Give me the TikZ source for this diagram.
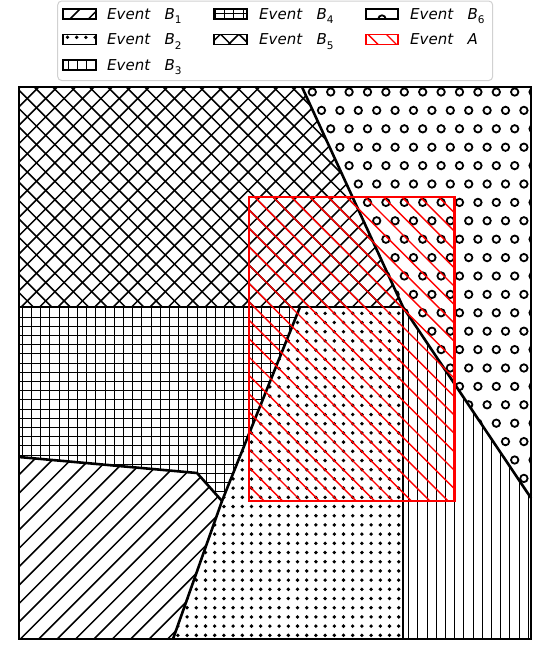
\documentclass[tikz,border=0pt]{standalone}
\usepackage{fontspec}
\setmainfont{DejaVu Sans}
\tikzset{
  hatchline/.style={line width=1.5pt,black},
  gridline/.style={line width=1.8pt,black},
  redhatch/.style={line width=1.4pt,red},
  edge/.style={line width=2.6pt,black,line join=miter},
  redbox/.style={line width=2.6pt,red},
  legbox/.style={line width=1.6pt,black},
  legtext/.style={anchor=base west,inner sep=0pt,font=\fontsize{15}{18}\selectfont\itshape},
}
% x - y = const  ("\" lines)
\newcommand\patDiagA[1]{\foreach \k in {-40,...,32}{\draw[#1] ({10.8+18.4*\k},-10) -- ++(700,700);}}
% x + y = const  ("/" lines)
\newcommand\patDiagB[1]{\foreach \k in {0,...,70}{\draw[#1] ({7+18.4*\k},-10) -- ++(-700,700);}}
\newcommand\patVert{\foreach \k in {0,...,60}{\pgfmathsetmacro\vx{round(3.4+9.2*\k)+0.5}\draw[gridline] (\vx,-5) -- ++(0,670);}}
\newcommand\patHorz{\foreach \k in {0,...,72}{\pgfmathsetmacro\hy{round(3.9+9.2*\k)+0.5}\draw[gridline] (-5,\hy) -- ++(570,0);}}
\newcommand\patDots[4]{\foreach \i in {#1,...,#2}{\foreach \j in {#3,...,#4}{\fill[black] ({3.1+9.2*\i},{0.5+9.2*\j}) circle (1.9);}}}
\newcommand\patRings[4]{\foreach \j in {#3,...,#4}{\pgfmathsetmacro\roff{9.2*Mod(\j,2)}\foreach \i in {#1,...,#2}{\draw[line width=1.8pt,black] ({-0.5+\roff+18.4*\i},{92+18.4*\j}) circle (3.7);}}}
\newcommand\subtxt[1]{\raisebox{-4.5pt}{\fontsize{10.5}{12}\selectfont\upshape #1}}
\begin{document}
\begin{tikzpicture}[x=1pt,y=-1pt]
\useasboundingbox (0,0) rectangle (554,657);
\fill[white] (0,0) rectangle (554,657);
% vertices
\coordinate (TL) at (19,87);
\coordinate (TR) at (531,87);
\coordinate (BR) at (531,639);
\coordinate (BL) at (19,639);
\coordinate (P1) at (302,87);
\coordinate (P2) at (403,307);
\coordinate (P3) at (531,498);
\coordinate (P4) at (403,639);
\coordinate (M1) at (19,307);
\coordinate (Q1) at (300,307);
\coordinate (Q2) at (222,501);
\coordinate (Q3) at (173,639);
\coordinate (R1) at (19,457);
\coordinate (R2) at (197,473);
\coordinate (A1) at (249,197);
\coordinate (A2) at (454.5,501);
% B5 crosshatch
\begin{scope}
\clip (TL) -- (P1) -- (P2) -- (M1) -- cycle;
\patDiagA{hatchline}\patDiagB{hatchline}
\end{scope}
% B6 rings
\begin{scope}
\clip (P1) -- (TR) -- (P3) -- (P2) -- cycle;
\patRings{15}{29}{0}{22}
\end{scope}
% B4 grid
\begin{scope}
\clip (M1) -- (Q1) -- (Q2) -- (R2) -- (R1) -- cycle;
\patVert\patHorz
\end{scope}
% B1 diagonal
\begin{scope}
\clip (R1) -- (R2) -- (Q2) -- (Q3) -- (BL) -- cycle;
\patDiagB{hatchline}
\end{scope}
% B2 dots
\begin{scope}
\clip (Q1) -- (P2) -- (P4) -- (Q3) -- (Q2) -- cycle;
\patDots{18}{44}{33}{70}
\end{scope}
% B3 vertical
\begin{scope}
\clip (P2) -- (P3) -- (BR) -- (P4) -- cycle;
\patVert
\end{scope}
% boundaries
\draw[edge] (P1) -- (P2) -- (P3);
\draw[edge] (M1) -- (P2) -- (P4);
\draw[edge] (Q1) -- (Q2) -- (Q3);
\draw[edge] (R1) -- (R2) -- (Q2);
\draw[edge] (TL) rectangle (BR);
% Event A
\begin{scope}
\clip (A1) rectangle (A2);
\patDiagA{redhatch}
\end{scope}
\draw[redbox] (A1) rectangle (A2);
% legend
\draw[rounded corners=4pt,draw=black!18,line width=1pt,fill=white] (57.7,1) rectangle (492.7,80.5);
% legend patches
\coordinate (L1a) at (63,9);   \coordinate (L1b) at (96,19);
\coordinate (L2a) at (63,34.3); \coordinate (L2b) at (96,44.3);
\coordinate (L3a) at (63,60);  \coordinate (L3b) at (96,70);
\coordinate (L4a) at (214,9);  \coordinate (L4b) at (247,19);
\coordinate (L5a) at (214,34.3); \coordinate (L5b) at (247,44.3);
\coordinate (L6a) at (366,9);  \coordinate (L6b) at (398,19);
\coordinate (L7a) at (366,34.3); \coordinate (L7b) at (398,44.3);
\begin{scope}\clip (L1a) rectangle (L1b); \patDiagB{hatchline}\end{scope}
\draw[legbox] (L1a) rectangle (L1b);
\begin{scope}\clip (L2a) rectangle (L2b); \patDots{6}{11}{3}{5}\end{scope}
\draw[legbox] (L2a) rectangle (L2b);
\begin{scope}\clip (L3a) rectangle (L3b); \patVert\end{scope}
\draw[legbox] (L3a) rectangle (L3b);
\begin{scope}\clip (L4a) rectangle (L4b); \patVert\patHorz\end{scope}
\draw[legbox] (L4a) rectangle (L4b);
\begin{scope}\clip (L5a) rectangle (L5b); \patDiagA{hatchline}\patDiagB{hatchline}\end{scope}
\draw[legbox] (L5a) rectangle (L5b);
\begin{scope}\clip (L6a) rectangle (L6b); \draw[line width=1.8pt,black] (382,19) circle (3.7);\end{scope}
\draw[legbox] (L6a) rectangle (L6b);
\begin{scope}\clip (L7a) rectangle (L7b); \patDiagA{redhatch}\end{scope}
\draw[legbox,red] (L7a) rectangle (L7b);
% legend texts
\node[legtext] (t1) at (107,19) {Event\hspace{14.5pt}B\subtxt{1}};
\node[legtext] (t2) at (107,44.5) {Event\hspace{14.5pt}B\subtxt{2}};
\node[legtext] (t3) at (107,70) {Event\hspace{14.5pt}B\subtxt{3}};
\node[legtext] (t4) at (259,19) {Event\hspace{14.5pt}B\subtxt{4}};
\node[legtext] (t5) at (259,44.5) {Event\hspace{14.5pt}B\subtxt{5}};
\node[legtext] (t6) at (410,19) {Event\hspace{14.5pt}B\subtxt{6}};
\node[legtext] (t7) at (410,44.5) {Event\hspace{14.5pt}A};
\end{tikzpicture}
\end{document}
